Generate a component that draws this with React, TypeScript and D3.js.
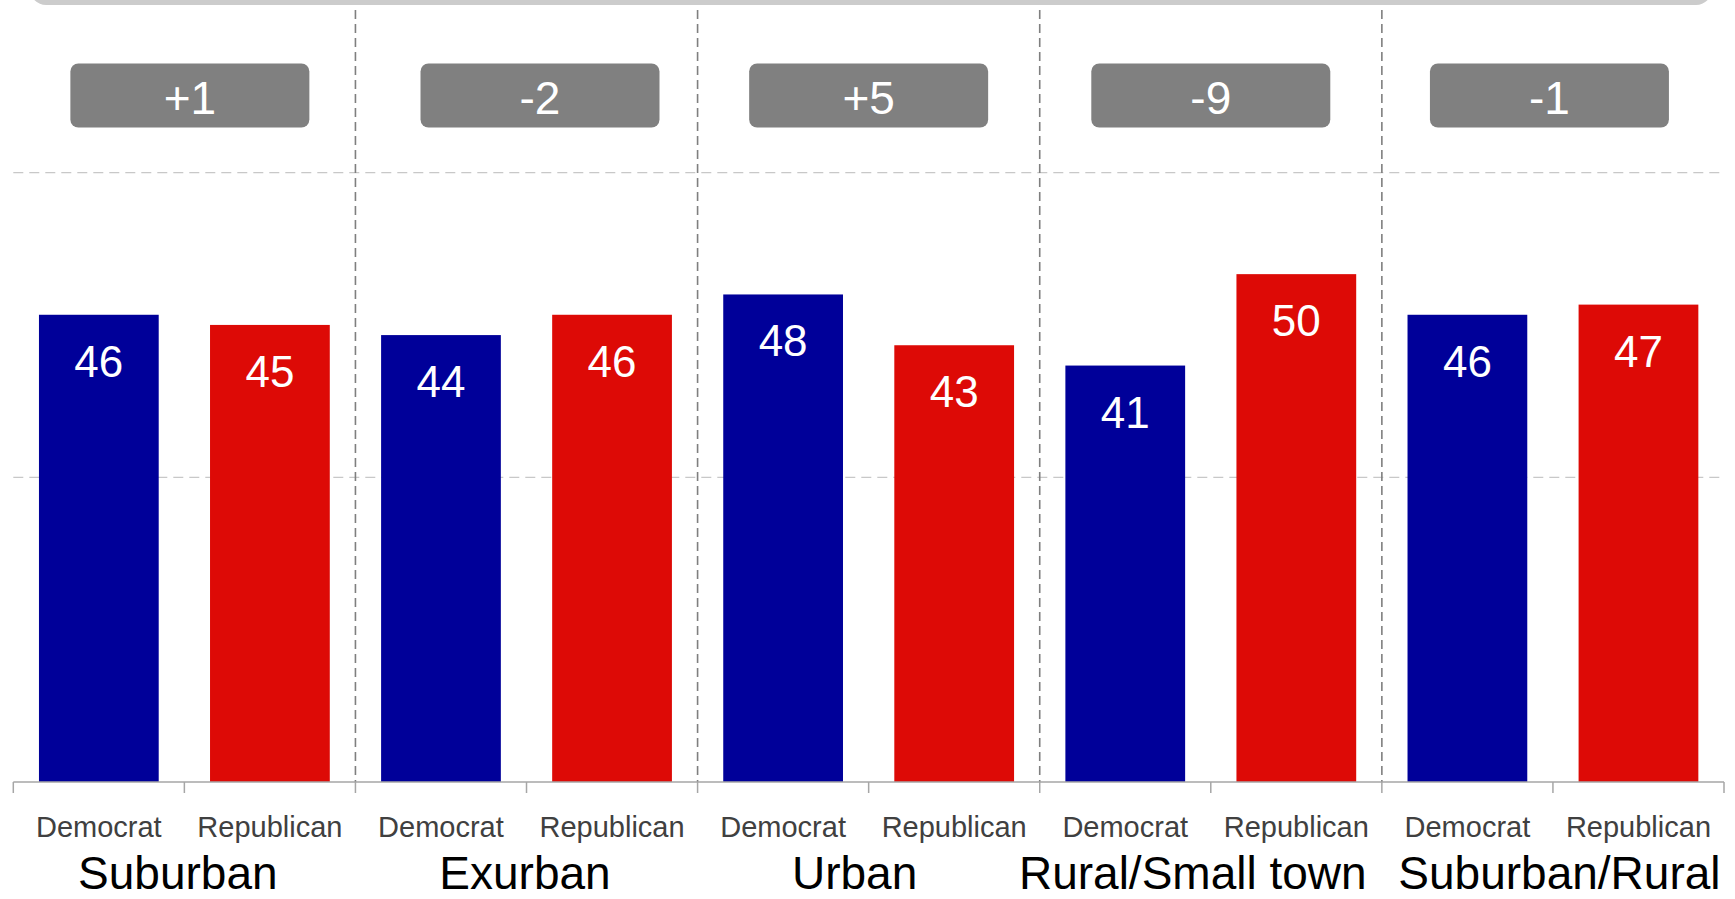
import React from "react";
import * as d3 from "d3";

const groups = ["Suburban", "Exurban", "Urban", "Rural/Small town", "Suburban/Rural"];
const parties = ["Democrat", "Republican"];
const demValues = [46, 44, 48, 41, 46];
const repValues = [45, 46, 43, 50, 47];
const diffLabels = ["+1", "-2", "+5", "-9", "-1"];
const yTicks = [30, 60];

// small hand-placed nudges of the annotation boxes / group titles (as in the source slide)
const boxNudge = [5.5, 13.5, 0, 0, -3.5];
const titleNudge = [-6.5, -1.5, -14, -18, 6.5];

const W = 1735;
const H = 899;
const FONT = "'Liberation Sans', Arial, Helvetica, sans-serif";
const COLORS: Record<string, string> = { Democrat: "#000099", Republican: "#DD0A06" };

type Row = { key: string; group: string; party: string; value: number; gi: number };

export default function App() {
  const rows: Row[] = [];
  groups.forEach((g, gi) => {
    rows.push({ key: `${gi}-D`, group: g, party: parties[0], value: demValues[gi], gi });
    rows.push({ key: `${gi}-R`, group: g, party: parties[1], value: repValues[gi], gi });
  });

  const x = d3
    .scaleBand<string>()
    .domain(rows.map((r) => r.key))
    .range([13.3, 1724])
    .paddingInner(0.3)
    .paddingOuter(0.15);
  const y = d3.scaleLinear().domain([0, 70]).range([782, 71]);

  const step = x.step();
  const bw = x.bandwidth();
  const boundary = (i: number) => x.range()[0] + i * step;
  const baseY = y(0);

  return (
    <svg
      width={W}
      height={H}
      style={{ position: "absolute", left: 0, top: 0, display: "block", background: "#fff" }}
      fontFamily={FONT}
    >
      {/* top title strip (cut off) */}
      <rect x={30} y={-40} width={1682} height={45} rx={16} fill="#cccccc" />

      {/* horizontal gridlines */}
      {yTicks.map((t) => (
        <line
          key={t}
          x1={x.range()[0]}
          x2={x.range()[1]}
          y1={y(t)}
          y2={y(t)}
          stroke="#c8c8c8"
          strokeWidth={1.3}
          strokeDasharray="10,6"
        />
      ))}

      {/* vertical group separators */}
      {groups.slice(1).map((g, i) => (
        <line
          key={g + i}
          x1={boundary((i + 1) * 2)}
          x2={boundary((i + 1) * 2)}
          y1={10}
          y2={baseY}
          stroke="#7f7f7f"
          strokeWidth={1.6}
          strokeDasharray="9,5"
        />
      ))}

      {/* bars */}
      {rows.map((r) => (
        <rect
          key={r.key}
          x={x(r.key)}
          y={y(r.value)}
          width={bw}
          height={baseY - y(r.value)}
          fill={COLORS[r.party]}
        />
      ))}

      {/* bar value labels */}
      {rows.map((r) => (
        <text
          key={r.key + "-lbl"}
          x={(x(r.key) as number) + bw / 2}
          y={y(r.value) + 62}
          textAnchor="middle"
          fill="#ffffff"
          fontSize={44}
        >
          {r.value}
        </text>
      ))}

      {/* difference boxes */}
      {groups.map((g, gi) => {
        const cx = boundary(gi * 2 + 1) + boxNudge[gi];
        return (
          <g key={g + "-box"}>
            <rect x={cx - 119.5} y={63.5} width={239} height={64} rx={8} fill="#808080" />
            <text x={cx} y={114} textAnchor="middle" fill="#ffffff" fontSize={46}>
              {diffLabels[gi]}
            </text>
          </g>
        );
      })}

      {/* x axis */}
      <line x1={x.range()[0]} x2={x.range()[1]} y1={baseY} y2={baseY} stroke="#a6a6a6" strokeWidth={1.5} />
      {d3.range(rows.length + 1).map((i) => (
        <line
          key={"tick" + i}
          x1={boundary(i)}
          x2={boundary(i)}
          y1={baseY}
          y2={baseY + 11}
          stroke="#a6a6a6"
          strokeWidth={1.5}
        />
      ))}

      {/* party labels */}
      {rows.map((r) => (
        <text
          key={r.key + "-party"}
          x={(x(r.key) as number) + bw / 2}
          y={837}
          textAnchor="middle"
          fill="#404040"
          fontSize={29}
        >
          {r.party}
        </text>
      ))}

      {/* group labels */}
      {groups.map((g, gi) => (
        <text
          key={g + "-grp"}
          x={boundary(gi * 2 + 1) + titleNudge[gi]}
          y={889}
          textAnchor="middle"
          fill="#000000"
          fontSize={46}
        >
          {g}
        </text>
      ))}
    </svg>
  );
}
